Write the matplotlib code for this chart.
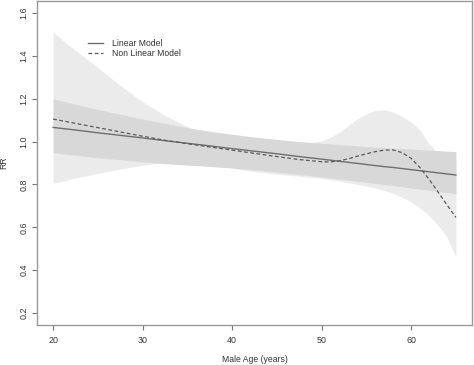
import matplotlib
matplotlib.use("Agg")
import matplotlib.pyplot as plt

plt.rcParams['font.family'] = ['Liberation Sans', 'DejaVu Sans']

# Edad masculina (años)
age = [20, 22.5, 25, 27.5, 30, 32.5, 35, 37.5, 40, 42.5, 45, 47.5, 50,
       51, 52, 53, 54, 55, 56, 57, 58, 59, 60, 61, 62, 63, 64, 65]

# Modelo lineal y su intervalo
linear_rr = [1.066, 1.054, 1.041, 1.029, 1.017, 1.004, 0.992, 0.980, 0.967, 0.955,
             0.943, 0.930, 0.918, 0.913, 0.908, 0.903, 0.898, 0.893, 0.888, 0.883,
             0.879, 0.874, 0.869, 0.864, 0.859, 0.854, 0.849, 0.844]
linear_hi = [1.200, 1.174, 1.150, 1.127, 1.105, 1.084, 1.065, 1.048, 1.034, 1.021,
             1.010, 1.000, 0.992, 0.989, 0.986, 0.983, 0.980, 0.977, 0.974, 0.972,
             0.969, 0.967, 0.965, 0.962, 0.960, 0.958, 0.955, 0.953]
linear_lo = [0.948, 0.936, 0.925, 0.915, 0.905, 0.897, 0.890, 0.884, 0.877, 0.868,
             0.858, 0.846, 0.835, 0.830, 0.825, 0.820, 0.815, 0.810, 0.805, 0.799,
             0.794, 0.789, 0.783, 0.778, 0.773, 0.767, 0.762, 0.757]

# Modelo no lineal y su intervalo
nonlin_rr = [1.105, 1.085, 1.065, 1.045, 1.025, 1.006, 0.990, 0.975, 0.960, 0.945,
             0.930, 0.916, 0.906, 0.905, 0.910, 0.920, 0.932, 0.943, 0.953, 0.960,
             0.961, 0.948, 0.922, 0.878, 0.824, 0.765, 0.705, 0.646]
nonlin_hi = [1.510, 1.425, 1.345, 1.262, 1.185, 1.122, 1.070, 1.033, 1.007, 0.990,
             0.980, 0.985, 1.003, 1.020, 1.045, 1.075, 1.105, 1.130, 1.145, 1.148,
             1.138, 1.118, 1.092, 1.052, 0.990, 0.945, 0.915, 0.895]
nonlin_lo = [0.805, 0.830, 0.852, 0.872, 0.890, 0.903, 0.905, 0.895, 0.875, 0.860,
             0.848, 0.838, 0.828, 0.822, 0.815, 0.808, 0.800, 0.792, 0.783, 0.772,
             0.758, 0.740, 0.718, 0.690, 0.655, 0.610, 0.555, 0.460]

x_ticks = [20, 30, 40, 50, 60]
y_ticks = [0.2, 0.4, 0.6, 0.8, 1.0, 1.2, 1.4, 1.6]

fig = plt.figure(figsize=(4.74, 3.65), dpi=100)
ax = fig.add_axes([37 / 474, 40 / 365, 435 / 474, 324 / 365])

# Bandas de confianza
ax.fill_between(age, nonlin_lo, nonlin_hi, color='#ebebeb', lw=0)
ax.fill_between(age, linear_lo, linear_hi, color='#d8d8d8', lw=0)

# Curvas
ax.plot(age, linear_rr, color='#6e6e6e', lw=1.0, label='Linear Model')
ax.plot(age, nonlin_rr, color='#5a5a5a', lw=0.9, ls=(0, (3, 2)), label='Non Linear Model')

ax.set_xlim(18.2, 66.8)
ax.set_ylim(0.144, 1.656)
ax.set_xticks(x_ticks)
ax.set_xticklabels([str(t) for t in x_ticks])
ax.set_yticks(y_ticks)
ax.set_yticklabels(['%.1f' % t for t in y_ticks], rotation=90, va='center')
ax.tick_params(axis='both', colors='#777777', labelcolor='#333333', labelsize=6.4,
               length=3.6, width=0.8)
ax.tick_params(axis='x', pad=4)
ax.tick_params(axis='y', pad=2.5)

for s in ax.spines.values():
    s.set_color('#999999')
    s.set_linewidth(1.0)

ax.set_xlabel('Male Age (years)', fontsize=6.2, color='#333333')
ax.set_ylabel('RR', fontsize=6.2, color='#333333')
ax.xaxis.set_label_coords(0.5, -0.092)
ax.yaxis.set_label_coords(-0.067, 0.5)

ax.legend(loc='upper left', bbox_to_anchor=(0.117, 0.883), frameon=False,
          fontsize=6.2, handlelength=1.8, handletextpad=1.0, labelspacing=0.15,
          borderpad=0, borderaxespad=0, labelcolor='#333333')

fig.savefig('out.png', dpi=100)
